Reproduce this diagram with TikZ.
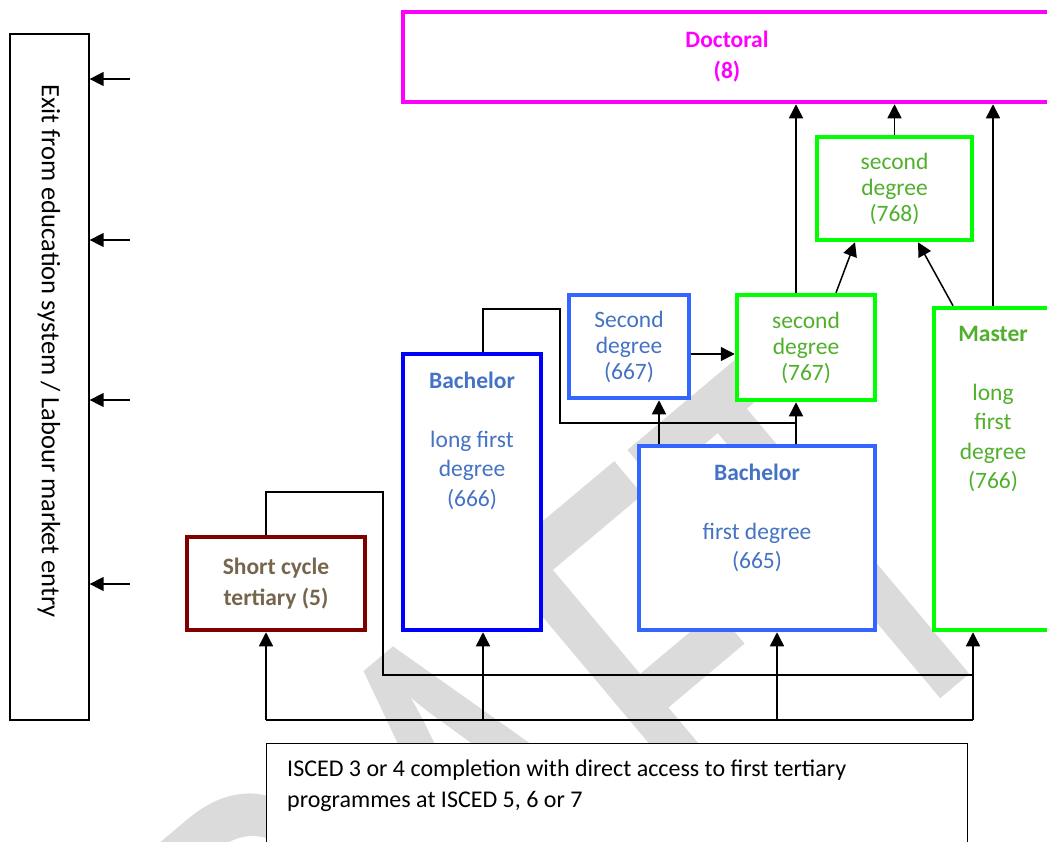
\documentclass[tikz,border=0pt]{standalone}
\usepackage{fontspec}
\setmainfont{Carlito}
\usetikzlibrary{arrows.meta,positioning}

\definecolor{docmag}{RGB}{255,0,255}
\definecolor{grnline}{RGB}{0,255,0}
\definecolor{grntext}{RGB}{80,176,44}
\definecolor{bluline}{RGB}{51,102,255}
\definecolor{deepblue}{RGB}{0,0,255}
\definecolor{blutext}{RGB}{68,114,196}
\definecolor{redline}{RGB}{128,0,0}
\definecolor{browntext}{RGB}{117,102,77}
\definecolor{wmark}{RGB}{219,219,219}

\begin{document}
\begin{tikzpicture}[x=1pt,y=-1pt,
  box/.style={draw, line width=4.5pt, fill=white, inner sep=0pt, align=center,
    font=\fontsize{23.5}{26}\selectfont},
  plain/.style={draw, line width=1.3pt, fill=white, inner sep=0pt},
  txt/.style={inner sep=0pt, align=center, font=\fontsize{23.5}{29.5}\selectfont},
  link/.style={line width=1.5pt},
  arr/.style={link, -{Triangle[length=14pt,width=14pt]}}]

  \clip (0,0) rectangle (1047,841);

  % watermark
  \node[rotate=40, anchor=base, text=wmark, inner sep=0pt,
    font=\fontsize{610}{610}\selectfont] (wm) at (596,988) {\scalebox{0.7}[1]{DRAFT}};

  % exit box
  \node[plain, minimum width=79, minimum height=686] (exitbox) at (49.5,377) {};
  \node[txt, rotate=-90, font=\fontsize{26.5}{30}\selectfont] (exittxt) at (49,351) {Exit from education system / Labour market entry};

  % programmes
  \node[box, draw=docmag, text=docmag, minimum width=648, minimum height=90,
    font=\fontsize{23.5}{31}\selectfont\bfseries] (doctoral) at (727,57) {Doctoral\\(8)};
  \node[box, draw=grnline, text=grntext, minimum width=155, minimum height=103] (sec768) at (894.5,188.5) {second\\degree\\(768)};
  \node[box, draw=grnline, text=grntext, minimum width=138, minimum height=105] (sec767) at (806,347.5) {second\\degree\\(767)};
  \node[box, draw=bluline, text=blutext, minimum width=120, minimum height=103] (sec667) at (629,346.5) {Second\\degree\\(667)};

  \node[box, draw=deepblue, minimum width=138, minimum height=276] (bach666) at (472,492) {};
  \node[txt, text=blutext, below=20pt of bach666.north] (t666) {\textbf{Bachelor}\\[29.5pt]long first\\degree\\(666)};
  \node[box, draw=bluline, minimum width=236, minimum height=184] (bach665) at (757,538) {};
  \node[txt, text=blutext, below=20pt of bach665.north] (t665) {\textbf{Bachelor}\\[29.5pt]first degree\\(665)};
  \node[box, draw=grnline, minimum width=118, minimum height=322] (master) at (993,469) {};
  \node[txt, text=grntext, below=20pt of master.north] (tmaster) {\textbf{Master}\\[29.5pt]long\\first\\degree\\(766)};
  \node[box, draw=redline, text=browntext, minimum width=178, minimum height=93,
    font=\fontsize{23.5}{31}\selectfont\bfseries] (short5) at (276,583.5) {Short cycle\\tertiary (5)};

  % entry box
  \node[plain, anchor=north west, minimum width=701, minimum height=130] (isced) at (266,743) {};
  \node[txt, align=left, anchor=north west, font=\fontsize{24}{31}\selectfont] (iscedtxt) at (287,760) {ISCED 3 or 4 completion with direct access to first tertiary\\programmes at ISCED 5, 6 or 7};

  % exits
  \foreach \ey [count=\i] in {79,240,400,584} {
    \coordinate (exit\i) at (130,\ey);
    \draw[arr] (exit\i) -- (exit\i -| exitbox.east);
  }

  % upward links
  \draw[arr] (sec768.north) -- (sec768.north |- doctoral.south);
  \draw[arr] (sec767.north -| 796,0) -- (doctoral.south -| 796,0);
  \draw[arr] (master.north) -- (master.north |- doctoral.south);
  \draw[arr] (sec767.north -| 836,0) -- (sec768.south -| 855,0);
  \draw[arr] (master.north -| 953,0) -- (sec768.south -| 918,0);
  \draw[arr] (sec667.east |- 0,354) -- (sec767.west |- 0,354);
  \draw[arr] (bach665.north -| 659,0) -- (sec667.south -| 659,0);
  \draw[arr] (bach665.north -| 796,0) -- (sec767.south -| 796,0);
  \draw[link] (bach666.north -| 483,0) |- (560,309) |- (796,423);

  % feed from ISCED 3/4
  \coordinate (feedL) at (266,720);
  \coordinate (feedR) at (973,720);
  \draw[link] (feedL) -- (feedR);
  \draw[arr] (feedL) -- (short5.south -| feedL);
  \draw[arr] (483,720) -- (bach666.south -| 483,0);
  \draw[arr] (777,720) -- (bach665.south -| 777,0);
  \draw[arr] (feedR) -- (master.south -| feedR);
  \draw[link] (short5.north -| 266,0) |- (383,492) |- (973,675);
\end{tikzpicture}
\end{document}
